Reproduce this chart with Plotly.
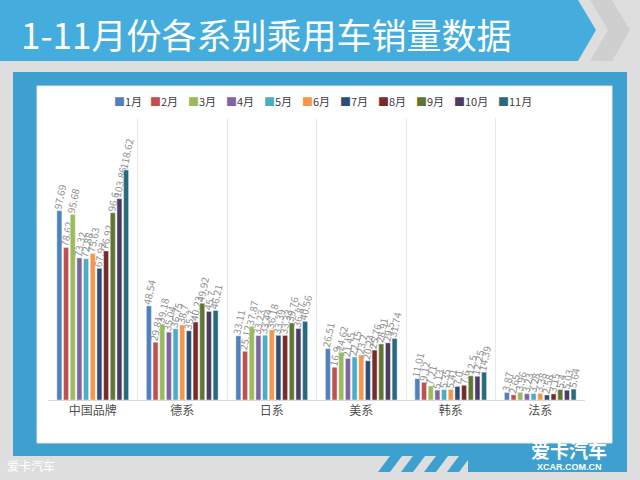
import plotly.graph_objects as go

categories = ["中国品牌", "德系", "日系", "美系", "韩系", "法系"]
months = ["1月", "2月", "3月", "4月", "5月", "6月", "7月", "8月", "9月", "10月", "11月"]
v_1 = [97.69, 48.54, 33.11, 26.51, 11.01, 3.87]
v_2 = [78.62, 29.81, 25.12, 16.9, 9.12, 2.65]
v_3 = [95.68, 39.18, 37.87, 24.62, 7.21, 3.96]
v_4 = [73.32, 35.04, 33.23, 21.45, 5.13, 3.23]
v_5 = [72.88, 36.75, 33.44, 22.15, 5.35, 3.28]
v_6 = [75.63, 38.7, 36.18, 23.2, 5.41, 3.38]
v_7 = [67.93, 35.7, 33.39, 20.24, 7.0, 2.58]
v_8 = [76.92, 40.23, 33.33, 25.76, 7.6, 3.15]
v_9 = [96.6, 49.92, 39.76, 28.91, 12.5, 5.4]
v_10 = [103.86, 45.7, 36.87, 29.5, 12.25, 5.03]
v_11 = [118.62, 46.21, 40.56, 31.74, 14.39, 5.64]
series = [v_1, v_2, v_3, v_4, v_5, v_6, v_7, v_8, v_9, v_10, v_11]
colors = ["#4F81BD", "#C0504D", "#9BBB59", "#8064A2", "#4BACC6", "#F79646",
          "#2C4D75", "#772C2A", "#5F7530", "#4D3B62", "#276A7C"]

fig = go.Figure()
for m, vals, c in zip(months, series, colors):
    fig.add_trace(go.Bar(
        x=categories, y=vals, name=m, marker_color=c, showlegend=False,
        text=[str(v) for v in vals], textposition="outside", textangle=-78,
        constraintext="none",
        textfont=dict(size=10, color="#909090", family="Noto Sans CJK SC"),
        cliponaxis=False,
    ))

W, H = 640, 480
def px(x): return x / W
def py(y): return 1 - y / H

shapes = [
    dict(type="rect", xref="paper", yref="paper", x0=0, x1=1, y0=0, y1=1,
         fillcolor="#dedede", line_width=0, layer="below"),
    dict(type="path", xref="paper", yref="paper",
         path=f"M {px(0)} {py(0)} L {px(578)} {py(0)} L {px(596)} {py(30)} L {px(578)} {py(61)} L {px(0)} {py(61)} Z",
         fillcolor="#45ADDD", line_width=0, layer="below"),
    dict(type="path", xref="paper", yref="paper",
         path=f"M {px(590)} {py(0)} L {px(612)} {py(0)} L {px(630)} {py(30)} L {px(612)} {py(61)} L {px(590)} {py(61)} L {px(608)} {py(30)} Z",
         fillcolor="#cfcfcf", line_width=0, layer="below"),
    dict(type="rect", xref="paper", yref="paper", x0=px(13), x1=px(627), y0=py(456), y1=py(72),
         fillcolor="#3DA0CF", line_width=0, layer="below"),
    dict(type="rect", xref="paper", yref="paper", x0=px(468), x1=px(627), y0=py(472), y1=py(450),
         fillcolor="#3DA0CF", line_width=0, layer="below"),
    dict(type="rect", xref="paper", yref="paper", x0=px(37), x1=px(612), y0=py(443), y1=py(86),
         fillcolor="white", line=dict(color="#e6e6e6", width=1), layer="below"),
]
for k in range(4):
    x0 = 378 + k * 23
    shapes.append(dict(type="path", xref="paper", yref="paper",
                       path=f"M {px(x0+12)} {py(456)} L {px(x0+24)} {py(456)} L {px(x0+12)} {py(472)} L {px(x0)} {py(472)} Z",
                       fillcolor="#3DA0CF", line_width=0, layer="below"))

annotations = [
    dict(text="1-11月份各系别乘用车销量数据", xref="paper", yref="paper",
         x=px(19), y=py(34), xanchor="left", yanchor="middle", showarrow=False,
         font=dict(size=35, color="white", family="Noto Sans CJK SC")),
    dict(text="爱卡汽车", xref="paper", yref="paper", x=px(5), y=py(465),
         xanchor="left", yanchor="middle", showarrow=False,
         font=dict(size=12, color="white", family="Noto Sans CJK SC")),
    dict(text="<b>爱卡汽车</b>", xref="paper", yref="paper", x=px(569), y=py(449),
         xanchor="center", yanchor="middle", showarrow=False,
         font=dict(size=19, color="white", family="Noto Sans CJK SC")),
    dict(text="<b>XCAR.COM.CN</b>", xref="paper", yref="paper", x=px(569), y=py(467),
         xanchor="center", yanchor="middle", showarrow=False,
         font=dict(size=9, color="white", family="Liberation Sans")),
]

leg_x = [112, 148, 186, 224, 262, 300, 338, 376, 414, 452, 496]
for m, c, lx in zip(months, colors, leg_x):
    annotations.append(dict(
        text=f"<span style='color:{c}'>■</span>{m}", xref="paper", yref="paper",
        x=px(lx), y=py(101), xanchor="left", yanchor="middle", showarrow=False,
        font=dict(size=11, color="#404040", family="Noto Sans CJK SC")))

fig.update_layout(
    width=W, height=H, margin=dict(l=0, r=0, t=0, b=0),
    paper_bgcolor="white", plot_bgcolor="rgba(0,0,0,0)",
    barmode="group", bargap=0.18, bargroupgap=0.25,
    shapes=shapes, annotations=annotations, showlegend=False,
    font=dict(family="Noto Sans CJK SC"),
    xaxis=dict(domain=[px(48), px(585)], showline=True, linecolor="#d9d9d9",
               showgrid=True, gridcolor="#e8e8e8", tickson="boundaries",
               ticks="", automargin=False, tickfont=dict(size=12, color="#505050")),
    yaxis=dict(domain=[py(400), py(118)], range=[0, 145.5], visible=False,
               showgrid=False, automargin=False),
)
fig.write_html("out.html", config={"displayModeBar": False},
               post_script="document.body.style.margin='0';document.body.style.overflow='hidden';")
